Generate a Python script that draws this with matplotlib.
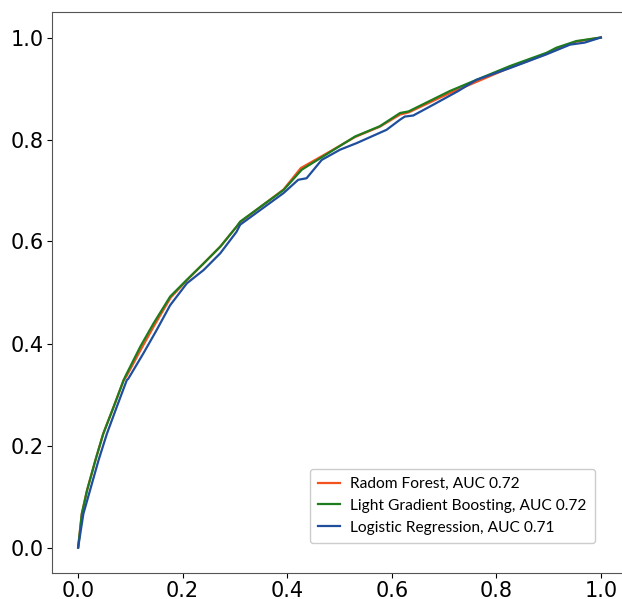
import numpy as np
import matplotlib.pyplot as plt

# ROC points (false positive rate, true positive rate)
rf_fpr = [0.0, 0.007, 0.017, 0.033, 0.048, 0.068, 0.087, 0.092, 0.121, 0.146, 0.177,
          0.208, 0.240, 0.272, 0.303, 0.310, 0.393, 0.426, 0.469, 0.530, 0.577,
          0.616, 0.632, 0.711, 0.762, 0.826, 0.896, 0.915, 0.953, 1.0]
rf_tpr = [0.0, 0.066, 0.112, 0.171, 0.223, 0.276, 0.328, 0.335, 0.390, 0.436, 0.490,
          0.524, 0.557, 0.590, 0.629, 0.638, 0.702, 0.744, 0.769, 0.805, 0.825,
          0.849, 0.853, 0.891, 0.913, 0.941, 0.968, 0.978, 0.992, 1.0]

lgb_fpr = [0.0, 0.007, 0.017, 0.033, 0.048, 0.068, 0.087, 0.090, 0.119, 0.144, 0.176,
           0.208, 0.240, 0.272, 0.303, 0.310, 0.393, 0.428, 0.469, 0.530, 0.577,
           0.616, 0.632, 0.711, 0.762, 0.826, 0.896, 0.915, 0.953, 1.0]
lgb_tpr = [0.0, 0.066, 0.112, 0.171, 0.223, 0.276, 0.328, 0.335, 0.394, 0.439, 0.492,
           0.525, 0.557, 0.590, 0.629, 0.639, 0.701, 0.741, 0.767, 0.806, 0.826,
           0.852, 0.855, 0.895, 0.917, 0.944, 0.970, 0.980, 0.993, 1.0]

lr_fpr = [0.0, 0.010, 0.039, 0.055, 0.074, 0.093, 0.096, 0.125, 0.150, 0.176, 0.208,
          0.240, 0.272, 0.303, 0.310, 0.393, 0.421, 0.437, 0.466, 0.501, 0.533,
          0.590, 0.603, 0.616, 0.625, 0.641, 0.679, 0.727, 0.762, 0.826, 0.896,
          0.941, 0.969, 1.0]
lr_tpr = [0.0, 0.066, 0.171, 0.223, 0.276, 0.328, 0.331, 0.381, 0.426, 0.475, 0.518,
          0.544, 0.577, 0.619, 0.633, 0.695, 0.721, 0.724, 0.760, 0.780, 0.793,
          0.819, 0.829, 0.839, 0.845, 0.847, 0.868, 0.895, 0.917, 0.940, 0.967,
          0.986, 0.990, 1.0]

labels = ["Radom Forest, AUC 0.72",
          "Light Gradient Boosting, AUC 0.72",
          "Logistic Regression, AUC 0.71"]
colors = ["#f4511e", "#1e7b1e", "#1f4e9c"]

fig = plt.figure(figsize=(6.22, 5.99), dpi=100)
ax = fig.add_axes([52 / 622, 26 / 599, 575 / 622, 561 / 599])

curves = [(rf_fpr, rf_tpr), (lgb_fpr, lgb_tpr), (lr_fpr, lr_tpr)]
for (fpr, tpr), lab, c in zip(curves, labels, colors):
    ax.plot(fpr, tpr, color=c, lw=1.6, label=lab)

ax.set_xlim(-0.05, 1.05)
ax.set_ylim(-0.05, 1.05)
ax.set_xticks(np.arange(0, 1.01, 0.2))
ax.set_yticks(np.arange(0, 1.01, 0.2))
ax.tick_params(labelsize=15, pad=2.5)
for s in ax.spines.values():
    s.set_color("#555555")

ax.legend(loc="lower right", bbox_to_anchor=(543 / 575, 0.053),
          prop={"family": "Lato", "size": 11.2}, framealpha=1,
          borderpad=0.55, handlelength=1.4, handletextpad=0.65,
          labelspacing=0.5, borderaxespad=0.0)

fig.savefig("out.png", dpi=100)
